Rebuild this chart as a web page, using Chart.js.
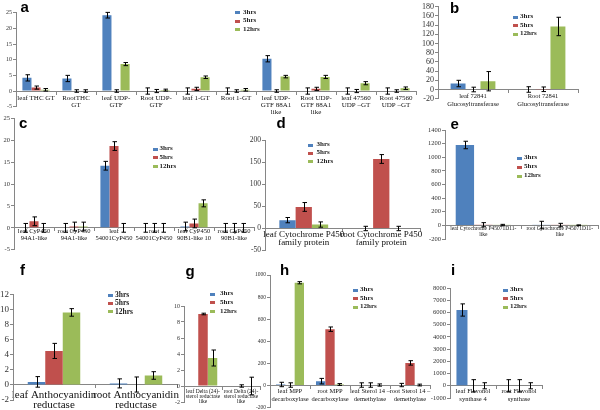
<!DOCTYPE html>
<html lang="en">
<head>
<meta charset="UTF-8">
<title>Relative expression of pathway genes</title>
<script src="https://cdn.jsdelivr.net/npm/chart.js"></script>
<style>
    body {
        margin: 0;
        width: 600px;
        height: 410px;
        overflow: hidden;
        background: #fff;
        position: relative;
        font-family: "Liberation Serif", serif;
    }
    canvas { position: absolute; }
    .letter {
        position: absolute;
        font: bold 15px "Liberation Sans", Arial, sans-serif;
        line-height: 15px;
        color: #000;
    }
    .keytext {
        position: absolute;
        font-weight: bold;
        color: #222;
        white-space: nowrap;
    }
    .keybox { position: absolute; width: 5px; height: 3px; }
</style>
</head>
<body>
<script>
    const seriesNames = ['3hrs', '5hrs', '12hrs'];

    // a - glucosyltransferases
    const aLabels = ['leaf THC GT', ['RootTHC', 'GT'], ['leaf UDP-', 'GTF'], ['Root UDP-', 'GTF'], 'leaf 1-GT', 'Root 1-GT',
        ['leaf UDP-', 'GTF 88A1', 'like'], ['Root UDP-', 'GTF 88A1', 'like'], ['leaf 47560', 'UDP \u2013GT'], ['Root 47560', 'UDP \u2013GT']];
    const aValues = [
        [4.2, 4.0, 24.2, 0, 0, 0, 10.3, 0, 0, 0],
        [1.1, 0, 0, 0, 0.7, 0, 0, 0.7, 0, 0],
        [0.4, 0, 8.6, 0.3, 4.4, 0.4, 4.6, 4.5, 2.5, 0.9]
    ];
    const aErrors = [
        [1.0, 1.0, 0.9, 1.0, 1.0, 1.0, 1.0, 1.0, 1.0, 1.0],
        [0.5, 0.4, 0.4, 0.5, 0.5, 0.4, 0.4, 0.5, 0.5, 0.4],
        [0.4, 0.4, 0.5, 0.3, 0.4, 0.4, 0.4, 0.5, 0.5, 0.4]
    ];
    const aRange = [-5, 25, 5];

    // b
    const bLabels = [['leaf 72841', 'Glucosyltransferase'], ['Root 72841', 'Glucosyltransferase']];
    const bValues = [[13, 0], [0, 0.5], [18, 137]];
    const bErrors = [[7, 6], [5, 5], [21, 20]];
    const bRange = [-20, 180, 20];

    // c
    const cLabels = [['leaf CyP450', '94A1-like'], ['root CyP450', '94A1-like'], ['leaf', '54001CyP450'],
        ['root', '54001CyP450'], ['leaf CyP450', '90B1-like 10'], ['root CyP450', '90B1-like']];
    const cValues = [[0, 0, 14.2, 0, 0.3, 0], [1.5, 0.3, 18.7, 0, 1.0, 0], [0, 0.3, 0, 0, 5.6, 0]];
    const cErrors = [[1, 1, 1, 1, 1, 1], [1, 1, 1, 1, 1, 1], [1, 1, 1, 1, 0.8, 1]];
    const cRange = [-5, 25, 5];

    // d
    const dLabels = [['leaf Cytochrome P450', 'family protein'], ['root Cytochrome P450', 'family protein']];
    const dValues = [[19, 0], [49, 158], [9, 0]];
    const dErrors = [[6, 5], [10, 10], [6, 5]];
    const dRange = [-50, 200, 50];

    // e
    const eLabels = [['leaf Cytochrome P45071D11-', 'like'], ['root Cytochrome P45071D11-', 'like']];
    const eValues = [[1180, 5], [10, 5], [5, 2]];
    const eErrors = [[55, 55], [30, 25], [10, 5]];
    const eRange = [-200, 1400, 200];

    // f
    const fLabels = [['leaf Anthocyanidin', 'reductase'], ['root Anthocyanidin', 'reductase']];
    const fValues = [[0.4, 0.2], [4.5, 0.05], [9.6, 1.25]];
    const fErrors = [[0.7, 0.6], [1.0, 1.0], [0.5, 0.5]];
    const fRange = [-2, 12, 2];

    // g
    const gLabels = [['leaf Delta (24)-', 'sterol reductase', 'like'], ['root Delta (24)-', 'sterol reductase', 'like']];
    const gValues = [[0, 0], [9.0, 0], [3.5, 0]];
    const gErrors = [[0, 0], [0.1, 0.15], [1.0, 1.1]];
    const gRange = [-2, 10, 2];

    // h
    const hLabels = [['leaf MPP', 'decarboxylase'], ['root MPP', 'decarboxylase'],
        ['leaf Sterol 14 \u2013', 'demethylase'], ['root Sterol 14 \u2013', 'demethylase']];
    const hValues = [[10, 40, 5, 5], [5, 510, 5, 205], [930, 10, 5, 5]];
    const hErrors = [[20, 25, 20, 15], [20, 20, 20, 20], [10, 8, 10, 8]];
    const hRange = [-200, 1000, 200];

    // i
    const iLabels = [['leaf Flavonol', 'synthase 4'], ['root Flavonol', 'synthase']];
    const iValues = [[6200, 0], [0, 0], [0, 0]];
    const iErrors = [[500, 500], [500, 500], [250, 250]];
    const iRange = [-1000, 8000, 1000];

    // where each panel sits on the page (plot box in px) and its text sizes
    const seriesColors = ['#4F81BD', '#C0504D', '#9BBB59'];
    const axisColor = '#868686';
    const layout = {
        a: { x0: 16, x1: 416, yTop: 12.7, yBot: 106.7, yw: 16, tickFont: 6, catFont: 7, catLine: 7, catOff: 7, cat: 0.68,
             key: [235, 243, 12.7, 8.6], keyFont: 7, letter: [20.5, -1] },
        b: { x0: 438, x1: 578, yTop: 6.7, yBot: 98.7, yw: 22, tickFont: 8, catFont: 6.5, catLine: 7.3, catOff: 7.2, cat: 0.64,
             key: [513, 520, 17.3, 8.5], keyFont: 7, letter: [450, 0] },
        c: { x0: 14, x1: 254, yTop: 118.5, yBot: 249.7, yw: 14, tickFont: 6.5, catFont: 6.5, catLine: 6.5, catOff: 3.5, cat: 0.68,
             key: [153, 159.5, 149, 8.8], keyFont: 7, letter: [19, 115] },
        d: { x0: 265, x1: 420, yTop: 140.5, yBot: 250.5, yw: 22, tickFont: 7.5, catFont: 9, catLine: 8.5, catOff: 5.8, cat: 0.63,
             key: [308, 316.5, 145, 8.4], keyFont: 7, letter: [276.5, 114.5] },
        e: { x0: 445, x1: 598, yTop: 130, yBot: 239, yw: 28, tickFont: 6.5, catFont: 5.5, catLine: 5.7, catOff: 3, cat: 0.72,
             key: [517, 524, 158, 9], keyFont: 7, letter: [450.5, 115.5] },
        f: { x0: 13, x1: 177, yTop: 294.3, yBot: 400, yw: 13, tickFont: 9, catFont: 11, catLine: 10.7, catOff: 10, cat: 0.64,
             key: [107.5, 115, 295, 8.4], keyFont: 7.5, letter: [20, 262] },
        g: { x0: 184, x1: 260, yTop: 306, yBot: 402, yw: 14, tickFont: 6, catFont: 5.5, catLine: 5, catOff: 5.7, cat: 0.75,
             key: [209.5, 220, 294, 8.8], keyFont: 7, letter: [185.5, 263] },
        h: { x0: 270, x1: 430, yTop: 275, yBot: 407.7, yw: 22, tickFont: 5.5, catFont: 6.5, catLine: 8.3, catOff: 5.4, cat: 0.7,
             key: [353, 360, 290, 8.6], keyFont: 7, letter: [280, 262] },
        i: { x0: 450, x1: 542, yTop: 288, yBot: 398, yw: 28, tickFont: 6.5, catFont: 6.5, catLine: 7.3, catOff: 6, cat: 0.72,
             key: [503, 510, 290, 8.6], keyFont: 7, letter: [451, 262] }
    };

    Chart.defaults.font.family = '"Liberation Serif", "Times New Roman", serif';

    // draws the +/- error whiskers on top of every bar
    const errorBars = {
        id: 'errorBars',
        afterDatasetsDraw(chart) {
            const ctx = chart.ctx;
            const yScale = chart.scales.y;
            ctx.save();
            ctx.strokeStyle = '#000';
            ctx.lineWidth = 1;
            chart.data.datasets.forEach((ds, i) => {
                chart.getDatasetMeta(i).data.forEach((bar, j) => {
                    const err = ds.errors[j];
                    if (!err) return;
                    const x = Math.round(bar.x) + 0.5;
                    const top = yScale.getPixelForValue(ds.data[j] + err);
                    const bot = yScale.getPixelForValue(ds.data[j] - err);
                    ctx.beginPath();
                    ctx.moveTo(x, top); ctx.lineTo(x, bot);
                    ctx.moveTo(x - 2, top); ctx.lineTo(x + 2.5, top);
                    ctx.moveTo(x - 2, bot); ctx.lineTo(x + 2.5, bot);
                    ctx.stroke();
                });
            });
            ctx.restore();
        }
    };

    function addText(cls, text, left, top, size) {
        const div = document.createElement('div');
        div.className = cls;
        div.textContent = text;
        div.style.left = left + 'px';
        div.style.top = top + 'px';
        if (size) {
            div.style.fontSize = size + 'px';
            div.style.lineHeight = size + 'px';
        }
        document.body.appendChild(div);
    }

    function buildPanel(name, labels, values, errors, range) {
        const L = layout[name];
        const canvasLeft = Math.max(0, Math.floor(L.x0 - L.yw));
        const canvasTop = Math.floor(L.yTop - 6);
        const yw = L.x0 - canvasLeft;
        const padTop = L.yTop - canvasTop;
        const w = Math.ceil(L.x1 - canvasLeft + 14);
        const h = Math.ceil(L.yBot - canvasTop + 34);
        const padRight = w - (L.x1 - canvasLeft);
        const padBottom = h - (L.yBot - canvasTop);

        const canvas = document.createElement('canvas');
        canvas.width = w;
        canvas.height = h;
        canvas.style.left = canvasLeft + 'px';
        canvas.style.top = canvasTop + 'px';
        document.body.appendChild(canvas);

        new Chart(canvas, {
            type: 'bar',
            data: {
                labels: labels,
                datasets: seriesNames.map((s, k) => ({
                    label: s,
                    data: values[k],
                    errors: errors[k],
                    backgroundColor: seriesColors[k],
                    borderWidth: 0,
                    categoryPercentage: L.cat,
                    barPercentage: 1
                }))
            },
            options: {
                responsive: false,
                animation: false,
                devicePixelRatio: 1,
                layout: { padding: { left: 0, top: padTop, right: padRight, bottom: padBottom } },
                plugins: { legend: { display: false }, tooltip: { enabled: false } },
                scales: {
                    x: {
                        position: { y: 0 },
                        grid: { drawOnChartArea: false, offset: true, tickLength: 3, color: axisColor },
                        border: { color: axisColor },
                        ticks: {
                            autoSkip: false, maxRotation: 0, minRotation: 0,
                            padding: L.catOff - 3 - L.catLine / 2,
                            color: '#111',
                            font: { size: L.catFont, lineHeight: L.catLine / L.catFont }
                        },
                        afterFit(scale) {
                            scale.paddingLeft = 0; scale.paddingRight = 0;
                            scale.paddingTop = 0; scale.paddingBottom = 0;
                        }
                    },
                    y: {
                        min: range[0],
                        max: range[1],
                        ticks: {
                            stepSize: range[2], autoSkip: false, padding: 1, color: '#333',
                            font: { size: L.tickFont }, callback: v => String(v)
                        },
                        grid: { drawOnChartArea: false, tickLength: 3, color: axisColor },
                        border: { color: axisColor },
                        afterFit(scale) {
                            scale.width = yw;
                            scale.paddingTop = 0; scale.paddingBottom = 0;
                            scale.paddingLeft = 0; scale.paddingRight = 0;
                        }
                    }
                }
            },
            plugins: [errorBars]
        });

        // legend and panel letter
        const [mx, tx, ky, gap] = L.key;
        seriesNames.forEach((s, k) => {
            const y = ky + k * gap;
            const box = document.createElement('div');
            box.className = 'keybox';
            box.style.left = mx + 'px';
            box.style.top = (y - 1.5) + 'px';
            box.style.background = seriesColors[k];
            document.body.appendChild(box);
            addText('keytext', s, tx, y - L.keyFont / 2 - 0.5, L.keyFont);
        });
        addText('letter', name, L.letter[0], L.letter[1]);
    }

    buildPanel('a', aLabels, aValues, aErrors, aRange);
    buildPanel('b', bLabels, bValues, bErrors, bRange);
    buildPanel('c', cLabels, cValues, cErrors, cRange);
    buildPanel('d', dLabels, dValues, dErrors, dRange);
    buildPanel('e', eLabels, eValues, eErrors, eRange);
    buildPanel('f', fLabels, fValues, fErrors, fRange);
    buildPanel('g', gLabels, gValues, gErrors, gRange);
    buildPanel('h', hLabels, hValues, hErrors, hRange);
    buildPanel('i', iLabels, iValues, iErrors, iRange);
</script>
</body>
</html>
